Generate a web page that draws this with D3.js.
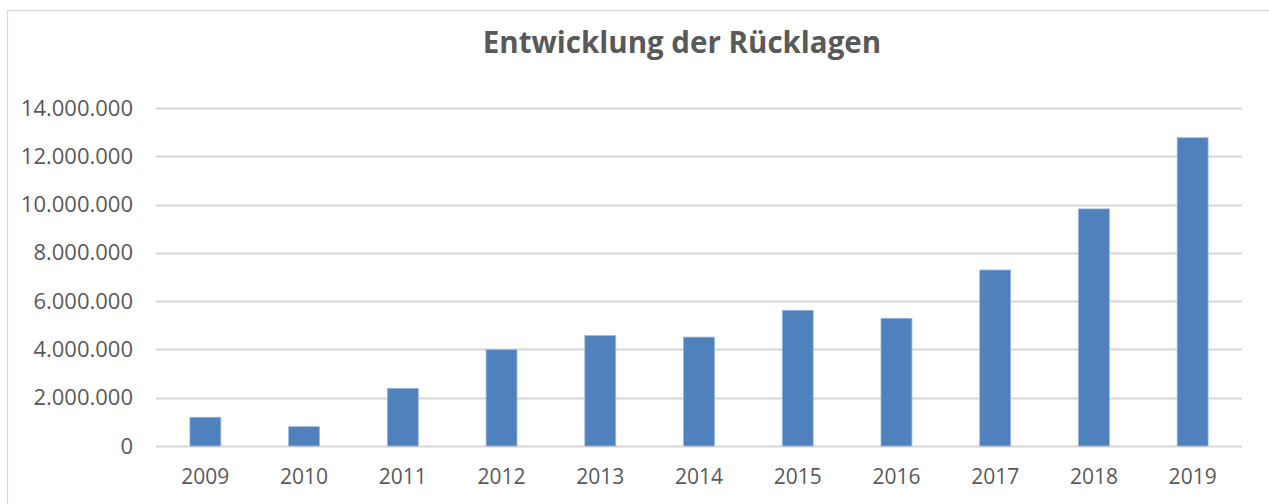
<!DOCTYPE html>
<html>
<head>
<meta charset="utf-8">
<script src="https://cdn.jsdelivr.net/npm/d3@7"></script>
<style>
  body { margin: 0; background: #fff; }
  svg { display: block; font-family: "Open Sans", sans-serif; }
</style>
</head>
<body>
<svg width="1269" height="504"></svg>
<script>
// Rücklagen pro Jahr
var years = ["2009", "2010", "2011", "2012", "2013", "2014", "2015", "2016", "2017", "2018", "2019"];
var reserves = [1190000, 800000, 2390000, 3990000, 4570000, 4510000, 5620000, 5290000, 7290000, 9820000, 12770000];
var yTicks = [0, 2000000, 4000000, 6000000, 8000000, 10000000, 12000000, 14000000];

var svg = d3.select("svg"),
    width = +svg.attr("width"),
    height = +svg.attr("height");

var margin = {left: 156, right: 27, top: 108, bottom: 58};

// chart frame
svg.append("rect")
    .attr("x", 7.5).attr("y", 10.5)
    .attr("width", 1300).attr("height", 600)
    .attr("fill", "none")
    .attr("stroke", "#d9d9d9")
    .attr("stroke-width", 1.2);

svg.append("text")
    .attr("x", 682)
    .attr("y", 53)
    .attr("text-anchor", "middle")
    .attr("fill", "#595959")
    .style("font-size", "29.5px")
    .style("font-weight", "bold")
    .text("Entwicklung der Rücklagen");

var x = d3.scaleBand()
    .domain(years)
    .range([margin.left, width - margin.right])
    .paddingInner(0.687)
    .paddingOuter(0.3435);

var y = d3.scaleLinear()
    .domain([0, 14000000])
    .range([height - margin.bottom, margin.top]);

var fmt = function(d) {
    return d3.format(",")(d).replace(/,/g, ".");
};

// gridlines
svg.append("g")
    .selectAll("line")
    .data(yTicks)
    .enter().append("line")
    .attr("x1", margin.left)
    .attr("x2", width - margin.right)
    .attr("y1", function(d) { return Math.round(y(d)) + 0.5; })
    .attr("y2", function(d) { return Math.round(y(d)) + 0.5; })
    .attr("stroke", "#d6d6d6")
    .attr("stroke-width", 1.8);

var yAxis = svg.append("g")
    .attr("transform", "translate(" + (margin.left - 23) + ",0)")
    .call(d3.axisLeft(y).tickValues(yTicks).tickFormat(fmt).tickSize(0).tickPadding(0));
yAxis.select(".domain").remove();
yAxis.selectAll("text")
    .attr("fill", "#595959")
    .style("font-family", "'Open Sans', sans-serif")
    .style("font-size", "22px");

// bars
svg.append("g")
    .selectAll("rect")
    .data(reserves)
    .enter().append("rect")
    .attr("x", function(d, i) { return x(years[i]); })
    .attr("width", x.bandwidth())
    .attr("y", function(d) { return y(d); })
    .attr("height", function(d) { return y(0) - y(d); })
    .attr("fill", "#4f81bd")
    .attr("stroke", "#9cb7dc")
    .attr("stroke-width", 0.8);

var xAxis = svg.append("g")
    .attr("transform", "translate(0," + y(0) + ")")
    .call(d3.axisBottom(x).tickSize(0).tickPadding(23));
xAxis.select(".domain").remove();
xAxis.selectAll("text")
    .attr("fill", "#595959")
    .style("font-family", "'Open Sans', sans-serif")
    .style("font-size", "21px");
</script>
</body>
</html>
